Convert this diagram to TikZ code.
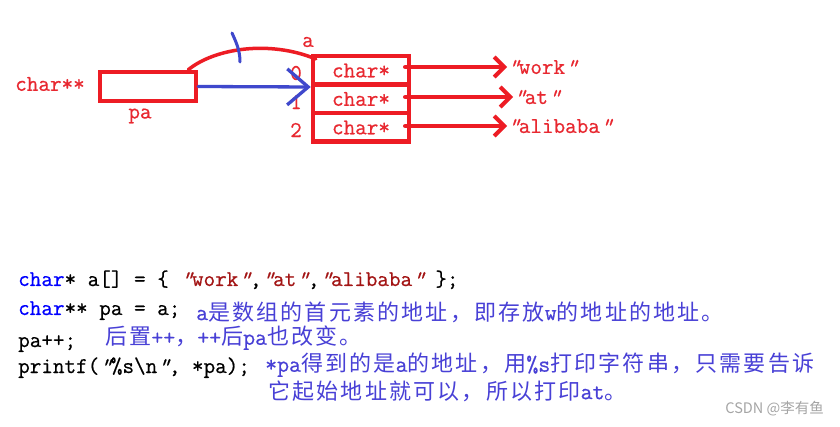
\documentclass[tikz,border=0pt]{standalone}
\usepackage{fontspec}
\setmonofont{Latin Modern Mono}[FakeBold=0.6]
\newfontfamily\qfont{Latin Modern Mono}[FakeBold=0.6, FakeSlant=0.35]
\newfontfamily\cjk[LetterSpace=10]{Noto Sans CJK SC}
\newfontfamily\cjkmark{Noto Sans CJK SC}
\usepackage{tikz}
\usetikzlibrary{arrows.meta}
\definecolor{inkred}{RGB}{237,28,36}
\definecolor{inkblue}{RGB}{63,72,204}
\definecolor{txtred}{RGB}{232,40,48}
\definecolor{kwblue}{RGB}{0,0,255}
\definecolor{strred}{RGB}{163,21,21}
\definecolor{cmtblue}{RGB}{72,64,214}
\definecolor{markgray}{RGB}{165,165,165}
\def\asc#1{{\ttfamily\fontsize{23.2}{26}\selectfont #1}}
\def\qq{{\qfont"}}

\begin{document}
\begin{tikzpicture}[x=1pt, y=-1pt,
	code/.style={font=\ttfamily\fontsize{22.5}{26}\selectfont, inner sep=0pt, anchor=base west},
	redcode/.style={font=\ttfamily\fontsize{22.5}{26}\selectfont, text=txtred, inner sep=0pt},
	cmt/.style={font=\cjk\fontsize{22}{26}\selectfont, text=cmtblue, inner sep=0pt, anchor=west},
	cell/.style={redcode, draw=inkred, line width=4.5pt, minimum width=96pt, minimum height=28.5pt},
	ptr/.style={inkred, line width=4.5pt, line cap=round, -{Straight Barb[length=10pt, width=20pt, line width=4pt]}}]
		%%%%% START %%%%%
		
		\fill[white] (0, 0) rectangle (840, 427);
		
		\node[cell, minimum height=29pt] (pa) at (148, 86.5) {};
		\node[redcode] (ptype) at (50, 84) {char**};
		\node[redcode] (pname) at (140, 116) {pa};
		
		\node[cell] (c0) at (361, 70.5) {char*};
		\node[cell] (c1) at (361, 99) {char*};
		\node[cell] (c2) at (361, 127.5) {char*};
		\node[redcode] (alab) at (308, 42) {a};
		\node[redcode] (i0) at (296, 73) {0};
		\node[redcode] (i1) at (296, 102) {1};
		\node[redcode] (i2) at (296, 130) {2};
		
		\node[redcode, anchor=west] (s0) at (507, 67) {\qq work\qq};
		\node[redcode, anchor=west] (s1) at (513, 97) {\qq at\qq};
		\node[redcode, anchor=west] (s2) at (507, 126) {\qq alibaba\qq};
		
		\draw[ptr] ([xshift=-6pt]c0.east |- s0.west) -- (s0.west);
		\draw[ptr] ([xshift=-6pt]c1.east |- s1.west) -- (s1.west);
		\draw[ptr] ([xshift=-6pt]c2.east |- s2.west) -- (s2.west);
		
		\draw[inkred, line width=3.5pt, line cap=round] ([xshift=-10pt]pa.north east) .. controls (215, 48) and (270, 40) .. ([xshift=5pt, yshift=-5pt]c0.north west);
		\draw[inkblue, line width=3.3pt, line cap=round, -{Straight Barb[length=21pt, width=36pt]}] (pa.east) -- (c0.south west);
		\draw[inkblue, line width=3pt, line cap=round] (232, 33) .. controls (236, 42) and (240, 50) .. (240, 62);
		
		\node[code] (l1) at (18, 286) {\textcolor{kwblue}{char}* a[] = \{ \textcolor{strred}{\qq work\qq},\textcolor{strred}{\qq at\qq},\textcolor{strred}{\qq alibaba\qq} \};};
		\node[code] (l2) at (18, 315) {\textcolor{kwblue}{char}** pa = a;};
		\node[code] (l3) at (18, 347) {pa++;};
		\node[code] (l4) at (18, 373) {printf(\qq\%s\textbackslash n\qq, *pa);};
		
		\node[cmt] (n1) at (196, 312) {\asc{a}是数组的首元素的地址，即存放\asc{w}的地址的地址。};
		\node[cmt] (n2) at (105, 338) {后置\asc{++}，\asc{++}后\asc{pa}也改变。};
		\node[cmt] (n3) at (265, 365) {\asc{*pa}得到的是\asc{a}的地址，用\asc{\%s}打印字符串，只需要告诉};
		\node[cmt] (n4) at (268, 391) {它起始地址就可以，所以打印\asc{at}。};
		
		\node[font=\cjkmark\fontsize{14.5}{16}\selectfont, text=markgray, anchor=east, inner sep=0pt] (mark) at (824, 409) {CSDN @李有鱼};
		
		%%%%% END %%%%%
	\end{tikzpicture}
\end{document}
